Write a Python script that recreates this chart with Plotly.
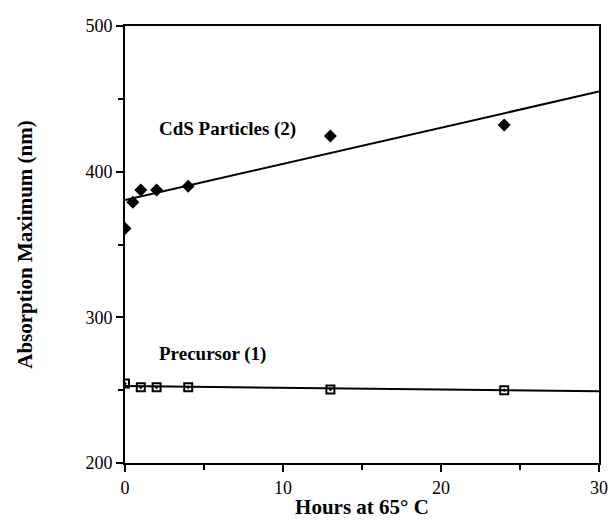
import plotly.graph_objects as go

# Data
cds_hours = [0, 0.5, 1, 2, 4, 13, 24]
cds_nm = [361, 379, 387.5, 387.5, 390, 424.5, 432]
pre_hours = [0, 1, 2, 4, 13, 24]
pre_nm = [254.5, 252, 252, 252, 250.5, 250]
fit_hours = [0, 30]
cds_fit = [380.5, 455]
pre_fit = [252.8, 249.3]

font_family = "Liberation Serif, Times New Roman, serif"

fig = go.Figure()
fig.add_trace(go.Scatter(x=fit_hours, y=cds_fit, mode="lines",
                         line=dict(color="black", width=2), showlegend=False))
fig.add_trace(go.Scatter(x=fit_hours, y=pre_fit, mode="lines",
                         line=dict(color="black", width=2), showlegend=False))
fig.add_trace(go.Scatter(x=cds_hours, y=cds_nm, mode="markers",
                         marker=dict(symbol="diamond", size=10, color="black"),
                         showlegend=False))
fig.add_trace(go.Scatter(x=pre_hours, y=pre_nm, mode="markers",
                         marker=dict(symbol="square-open-dot", size=8, color="black",
                                     line=dict(width=2, color="black")),
                         showlegend=False))

fig.add_annotation(x=2.0, y=429, xanchor="left", text="<b>CdS Particles (2)</b>",
                   showarrow=False,
                   font=dict(family=font_family, size=19, color="black"))
fig.add_annotation(x=2.0, y=275, xanchor="left", text="<b>Precursor (1)</b>",
                   showarrow=False,
                   font=dict(family=font_family, size=19, color="black"))

axis_common = dict(showgrid=False, zeroline=False, showline=True, linecolor="black",
                   linewidth=2, mirror=True, ticks="outside", tickcolor="black",
                   tickwidth=2, ticklen=7,
                   tickfont=dict(family=font_family, size=18, color="black"))

fig.update_xaxes(range=[0, 30], tickvals=[0, 10, 20, 30],
                 minor=dict(tickvals=[5, 15, 25], ticks="outside", ticklen=5,
                            tickcolor="black", tickwidth=2),
                 title=dict(text="<b>Hours at 65° C</b>", standoff=3,
                            font=dict(family=font_family, size=21, color="black")),
                 **axis_common)
fig.update_yaxes(range=[200, 500], tickvals=[200, 300, 400, 500],
                 minor=dict(tickvals=[250, 350, 450], ticks="outside", ticklen=5,
                            tickcolor="black", tickwidth=2),
                 title=dict(text="<b>Absorption Maximum (nm)</b>", standoff=47,
                            font=dict(family=font_family, size=21, color="black")),
                 **axis_common)

# The page body adds an 8px offset; the figure is shrunk so it fits the window
# without scrollbars and the plot area sits at x 125..606, y 16..463.
fig.update_layout(width=608, height=521, plot_bgcolor="white", paper_bgcolor="white",
                  margin=dict(l=117, r=10, t=8, b=66))

fig.write_html("out.html")
